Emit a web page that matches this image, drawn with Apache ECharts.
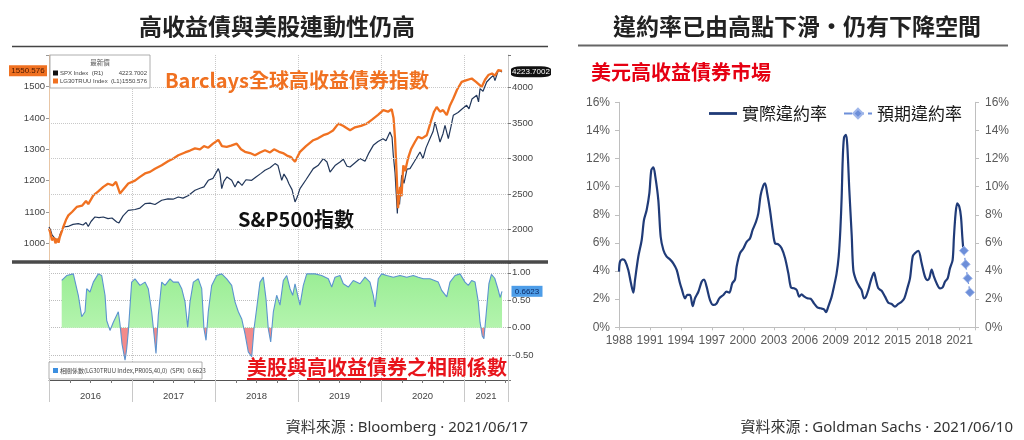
<!DOCTYPE html>
<html>
<head>
<meta charset="utf-8">
<script src="https://cdn.jsdelivr.net/npm/echarts@6/dist/echarts.min.js"></script>
<style>
  html, body { margin: 0; padding: 0; background: #fff; }
  #chart { width: 1024px; height: 440px; }
</style>
</head>
<body>
<div id="chart"></div>
<script>
// ---- left panel: Barclays HY index (left axis) and S&P 500 (right axis), decimal years ----
const hyYears = [2016.00, 2016.02, 2016.036, 2016.06, 2016.078, 2016.096, 2016.115, 2016.13, 2016.172, 2016.205,
  2016.233, 2016.277, 2016.334, 2016.398, 2016.446, 2016.473, 2016.534, 2016.59, 2016.654, 2016.71,
  2016.77, 2016.807, 2016.855, 2016.89, 2016.955, 2017.036, 2017.096, 2017.157, 2017.217, 2017.277,
  2017.358, 2017.434, 2017.494, 2017.558, 2017.639, 2017.699, 2017.759, 2017.819, 2017.867, 2017.919,
  2017.976, 2018.040, 2018.084, 2018.141, 2018.193, 2018.261, 2018.313, 2018.361, 2018.422, 2018.482,
  2018.542, 2018.602, 2018.663, 2018.711, 2018.771, 2018.819, 2018.867, 2018.916, 2018.964, 2019.024,
  2019.096, 2019.184, 2019.241, 2019.305, 2019.361, 2019.422, 2019.486, 2019.542, 2019.627, 2019.687,
  2019.759, 2019.828, 2019.892, 2019.964, 2020.028, 2020.084, 2020.129, 2020.151, 2020.169, 2020.187,
  2020.205, 2020.229, 2020.247, 2020.269, 2020.29, 2020.325, 2020.361, 2020.410, 2020.446, 2020.494,
  2020.551, 2020.602, 2020.639, 2020.671, 2020.711, 2020.747, 2020.792, 2020.831, 2020.871, 2020.916,
  2020.972, 2021.024, 2021.093, 2021.145, 2021.213, 2021.253, 2021.293, 2021.337, 2021.373, 2021.413, 2021.458];
const hyValues = [1047, 1030, 1010, 1018, 1000, 1015, 1002, 1020, 1052, 1075,
  1089, 1100, 1116, 1120, 1135, 1125, 1153, 1165, 1180, 1190,
  1185, 1196, 1159, 1170, 1191, 1200, 1212, 1223, 1228, 1238,
  1249, 1262, 1270, 1281, 1290, 1296, 1303, 1300, 1310, 1305,
  1318, 1330, 1310, 1308, 1312, 1318, 1300, 1292, 1288, 1281,
  1290, 1297, 1290, 1300, 1292, 1288, 1280, 1275, 1260, 1292,
  1310, 1329, 1335, 1345, 1350, 1360, 1382, 1375, 1361, 1370,
  1375, 1382, 1395, 1410, 1425, 1420, 1428, 1400, 1335, 1230,
  1112, 1180, 1150, 1249, 1230, 1271, 1300, 1324, 1340, 1335,
  1345, 1390, 1420, 1435, 1420, 1425, 1409, 1440, 1462, 1490,
  1515, 1520, 1526, 1515, 1499, 1522, 1537, 1542, 1535, 1553, 1550.576];

const spxYears = [2016.00, 2016.02, 2016.036, 2016.06, 2016.078, 2016.096, 2016.115, 2016.13, 2016.172, 2016.229,
  2016.289, 2016.353, 2016.41, 2016.446, 2016.473, 2016.506, 2016.554, 2016.602, 2016.654, 2016.711,
  2016.759, 2016.816, 2016.843, 2016.892, 2016.955, 2017.036, 2017.096, 2017.157, 2017.217, 2017.277,
  2017.358, 2017.434, 2017.494, 2017.558, 2017.614, 2017.675, 2017.759, 2017.819, 2017.867, 2017.919,
  2017.976, 2018.040, 2018.060, 2018.081, 2018.108, 2018.145, 2018.201, 2018.241, 2018.277, 2018.325,
  2018.373, 2018.442, 2018.494, 2018.554, 2018.602, 2018.663, 2018.723, 2018.759, 2018.804, 2018.831,
  2018.864, 2018.892, 2018.928, 2018.964, 2018.988, 2019.024, 2019.096, 2019.184, 2019.241, 2019.305,
  2019.349, 2019.386, 2019.446, 2019.506, 2019.546, 2019.59, 2019.627, 2019.687, 2019.747, 2019.807,
  2019.855, 2019.907, 2019.964, 2020.024, 2020.060, 2020.108, 2020.133, 2020.148, 2020.169, 2020.197,
  2020.205, 2020.223, 2020.249, 2020.277, 2020.313, 2020.349, 2020.398, 2020.470, 2020.506, 2020.542,
  2020.590, 2020.627, 2020.651, 2020.675, 2020.711, 2020.747, 2020.771, 2020.811, 2020.843, 2020.871,
  2020.928, 2020.976, 2021.032, 2021.06, 2021.096, 2021.153, 2021.175, 2021.193, 2021.229, 2021.273,
  2021.313, 2021.353, 2021.373, 2021.413, 2021.458];
const spxValues = [2032, 1985, 1920, 1900, 1860, 1870, 1845, 1920, 2032, 2040,
  2070, 2080, 2060, 2095, 2040, 2110, 2174, 2165, 2174, 2150,
  2160, 2103, 2090, 2190, 2268, 2280, 2300, 2363, 2370, 2350,
  2410, 2430, 2425, 2456, 2440, 2475, 2551, 2580, 2600, 2692,
  2720, 2857, 2790, 2575, 2680, 2740, 2692, 2597, 2680, 2620,
  2700, 2692, 2740, 2790, 2833, 2870, 2928, 2900, 2692, 2780,
  2716, 2640, 2560, 2386, 2450, 2575, 2700, 2857, 2900, 2999,
  2950, 2809, 2900, 2950, 2990, 2890, 2880, 2940, 2999, 2960,
  3080, 3186, 3240, 3280, 3250, 3374, 3300, 3045, 2800, 2222,
  2500, 2350, 2763, 2650, 2850, 2857, 2950, 3092, 3000, 3150,
  3281, 3380, 3515, 3400, 3233, 3350, 3469, 3281, 3450, 3610,
  3650, 3700, 3751, 3700, 3840, 3893, 3800, 3987, 3950, 4081,
  4130, 4175, 4100, 4246, 4223.7002];

const hyTicks = [1000, 1100, 1200, 1300, 1400, 1500];
const spxTicks = [2000, 2500, 3000, 3500, 4000];
const hyLast = 1550.576;
const spxLast = 4223.7002;

// ---- 40-day correlation, SPX vs LG30TRUU ----
const corrYears = [2016.153, 2016.213, 2016.293, 2016.313, 2016.353, 2016.394, 2016.434, 2016.454, 2016.494, 2016.534,
  2016.594, 2016.635, 2016.675, 2016.695, 2016.735, 2016.775, 2016.835, 2016.855, 2016.88, 2016.916,
  2016.935, 2016.955, 2016.996, 2017.036, 2017.096, 2017.157, 2017.196, 2017.237, 2017.289, 2017.317,
  2017.358, 2017.398, 2017.458, 2017.498, 2017.558, 2017.599, 2017.639, 2017.671, 2017.699, 2017.739,
  2017.799, 2017.840, 2017.867, 2017.892, 2017.919, 2017.960, 2018.020, 2018.081, 2018.141, 2018.201,
  2018.241, 2018.281, 2018.322, 2018.361, 2018.401, 2018.442, 2018.470, 2018.502, 2018.542, 2018.582,
  2018.614, 2018.642, 2018.671, 2018.703, 2018.743, 2018.783, 2018.823, 2018.864, 2018.904, 2018.936,
  2018.964, 2018.984, 2019.024, 2019.064, 2019.105, 2019.205, 2019.285, 2019.365, 2019.406, 2019.446,
  2019.506, 2019.546, 2019.606, 2019.666, 2019.747, 2019.807, 2019.867, 2019.907, 2019.928, 2019.967,
  2020.008, 2020.069, 2020.148, 2020.229, 2020.310, 2020.389, 2020.449, 2020.510, 2020.590, 2020.690,
  2020.731, 2020.792, 2020.831, 2020.892, 2020.952, 2021.012, 2021.052, 2021.092, 2021.133, 2021.172,
  2021.193, 2021.22, 2021.24, 2021.27, 2021.30, 2021.33, 2021.37, 2021.41, 2021.435, 2021.458];
const corrValues = [0.86, 0.95, 0.98, 0.95, 0.59, 0.20, 0.29, 0.71, 0.65, 0.83,
  0.98, 0.95, 0.59, 0.13, -0.05, 0.10, 0.29, 0.07, -0.30, -0.59,
  -0.40, -0.08, 0.83, 0.89, 0.77, 0.83, 0.71, 0.29, -0.47, 0.23,
  0.83, 0.77, 0.89, 0.83, 0.83, 0.71, 0.47, 0.01, 0.47, 0.83,
  0.89, 0.71, -0.02, -0.23, 0.29, 0.77, 0.95, 0.98, 0.89, 0.77,
  0.47, 0.29, 0.16, -0.11, -0.44, -0.53, -0.02, 0.35, 0.83, 0.92,
  0.53, -0.02, -0.26, 0.29, 0.59, 0.41, 0.86, 0.95, 0.71, 0.59,
  0.80, 0.83, 0.41, 0.77, 0.98, 0.98, 0.95, 0.89, 0.74, 0.92,
  0.95, 0.80, 0.74, 0.86, 0.80, 0.92, 0.83, 0.59, 0.38, 0.89,
  0.98, 0.95, 0.92, 0.95, 0.92, 0.95, 0.92, 0.89, 0.89, 0.83,
  0.68, 0.56, 0.83, 0.95, 0.98, 0.83, 0.77, 0.86, 0.83, 0.47,
  0.10, -0.15, -0.20, 0.30, 0.80, 0.97, 0.90, 0.70, 0.55, 0.6623];
const corrTicks = [-0.5, 0, 0.5, 1];
const corrLast = 0.6623;

// ---- right panel: US high-yield default rate (%) ----
const defaultYears = [1988.00, 1988.10, 1988.36, 1988.58, 1988.90, 1989.16, 1989.39, 1989.55, 1989.87, 1990.20,
  1990.42, 1990.68, 1990.94, 1991.13, 1991.33, 1991.52, 1991.81, 1992.04, 1992.30, 1992.62,
  1992.94, 1993.26, 1993.59, 1993.91, 1994.07, 1994.40, 1994.62, 1994.88, 1995.14, 1995.36,
  1995.69, 1996.01, 1996.24, 1996.49, 1996.82, 1997.14, 1997.46, 1997.72, 1998.11, 1998.43,
  1998.69, 1998.98, 1999.24, 1999.40, 1999.72, 2000.05, 2000.37, 2000.69, 2000.95, 2001.28,
  2001.50, 2001.73, 2001.99, 2002.15, 2002.37, 2002.63, 2002.89, 2003.12, 2003.44, 2003.76,
  2004.09, 2004.41, 2004.67, 2004.96, 2005.22, 2005.47, 2005.70, 2005.93, 2006.25, 2006.57,
  2006.90, 2007.22, 2007.54, 2007.87, 2008.06, 2008.28, 2008.61, 2008.83, 2009.09, 2009.29,
  2009.45, 2009.58, 2009.68, 2009.81, 2010.00, 2010.13, 2010.32, 2010.55, 2010.71, 2010.97,
  2011.29, 2011.51, 2011.74, 2011.93, 2012.16, 2012.42, 2012.71, 2012.90, 2013.13, 2013.45,
  2013.78, 2014.10, 2014.42, 2014.74, 2015.07, 2015.39, 2015.65, 2015.94, 2016.20, 2016.46,
  2016.68, 2017.01, 2017.33, 2017.65, 2017.88, 2018.07, 2018.30, 2018.52, 2018.78, 2019.11,
  2019.36, 2019.59, 2019.85, 2020.07, 2020.33, 2020.46, 2020.62, 2020.78, 2020.98, 2021.14,
  2021.27, 2021.37];
const defaultRates = [3.96, 4.67, 4.83, 4.74, 4.08, 3.13, 2.47, 3.36, 5.02, 6.21,
  7.63, 8.34, 9.52, 11.18, 11.37, 10.71, 9.05, 6.44, 5.50, 5.02,
  4.83, 4.55, 4.08, 3.13, 2.75, 2.06, 2.30, 2.30, 1.50, 2.06,
  2.53, 3.24, 3.40, 2.89, 1.94, 1.59, 1.70, 2.06, 2.30, 2.53,
  2.46, 3.13, 3.39, 4.31, 5.26, 5.60, 6.08, 6.32, 6.92, 7.51,
  8.10, 9.41, 10.10, 10.24, 9.50, 8.34, 6.92, 5.97, 5.90, 5.62,
  4.93, 3.84, 2.82, 2.77, 2.65, 2.18, 2.35, 2.20, 2.06, 2.03,
  1.70, 1.42, 1.35, 1.28, 1.07, 1.47, 2.18, 2.89, 3.84, 5.02,
  6.92, 9.29, 11.90, 13.50, 13.68, 12.85, 9.76, 6.56, 4.07, 3.36,
  2.89, 2.65, 2.06, 2.18, 2.65, 3.36, 3.89, 3.36, 2.77, 2.60,
  2.18, 1.75, 1.66, 1.47, 1.66, 1.82, 2.06, 2.77, 3.48, 5.02,
  5.26, 5.43, 4.55, 3.60, 3.36, 3.48, 4.10, 3.60, 3.13, 2.77,
  2.84, 3.24, 3.48, 4.19, 4.78, 6.44, 8.10, 8.81, 8.57, 7.87,
  6.44, 5.50];
const forecastYears = [2021.43, 2021.59, 2021.79, 2022.01];
const forecastRates = [5.45, 4.48, 3.48, 2.49];

const BASE_YEAR = 1988;
const X_END_LEFT = 2021.53;

const cjk = '"Noto Sans CJK TC", "Noto Sans CJK SC", sans-serif';
const latin = '"Liberation Sans", Arial, sans-serif';
const mixed = '"Noto Sans", "Noto Sans CJK TC", sans-serif';

function pairs(xs, ys) {
  return xs.map((x, i) => [x, ys[i]]);
}
function near(v, list) {
  return list.some((t) => Math.abs(v - t) < 1e-6);
}
function textWidth(str, font) {
  const ctx = document.createElement('canvas').getContext('2d');
  ctx.font = font;
  return ctx.measureText(str).width;
}

const chart = echarts.init(document.getElementById('chart'));

// correlation panel geometry, used for the green / red split of the fill
const corrGrid = { left: 49, right: 516, top: 263, height: 117 };
const corrMin = -0.953;
const corrMax = 1.178;
const zeroAt = corrMax / (corrMax - corrMin);
const corrFill = new echarts.graphic.LinearGradient(0, corrGrid.top, 0, corrGrid.top + corrGrid.height, [
  { offset: 0, color: '#95ec90' },
  { offset: zeroAt, color: '#b4f4ae' },
  { offset: zeroAt, color: '#f38b8b' },
  { offset: 1, color: '#f38b8b' },
], true);

// red caption with partial underlines
const capFont = 'bold 20px ' + cjk;
const capX = 247;
const w1 = textWidth('美股', capFont);
const w2 = textWidth('與', capFont);
const w3 = textWidth('高收益債券', capFont);

const option = {
  backgroundColor: '#fff',
  animation: false,
  grid: [
    { left: 49, right: 516, top: 55, height: 207 },
    corrGrid,
    { left: 619, right: 49, top: 102.3, height: 225 },
  ],
  xAxis: [
    {
      gridIndex: 0, type: 'value', min: 2016, max: X_END_LEFT, interval: 1,
      axisLine: { show: false }, axisTick: { show: false }, axisLabel: { show: false },
      splitLine: { show: true, lineStyle: { type: 'dotted', color: '#c8c8c8' } },
    },
    {
      gridIndex: 1, type: 'value', min: 2016, max: X_END_LEFT, interval: 1,
      axisLine: { show: true, onZero: false, lineStyle: { color: '#555', width: 1 } },
      axisTick: { show: true, length: 22, lineStyle: { color: '#c8c8c8' } },
      minorTick: { show: true, splitNumber: 4, length: 3, lineStyle: { color: '#777' } },
      splitLine: { show: true, lineStyle: { type: 'dotted', color: '#c8c8c8' } },
      axisLabel: {
        margin: 11,
        formatter: (v) => {
          if (Math.abs(v - Math.round(v)) > 1e-6) return '';
          const y = Math.round(v);
          return y === 2021 ? '{s|' + y + '}' : '{f|' + y + '}';
        },
        rich: {
          f: { padding: [0, 0, 0, 83], fontSize: 9.5, color: '#444', fontFamily: latin },
          s: { padding: [0, 0, 0, 44], fontSize: 9.5, color: '#444', fontFamily: latin },
        },
      },
    },
    {
      gridIndex: 2, type: 'value', min: 0, max: 34.5, interval: 3,
      axisLine: { show: true, onZero: false, lineStyle: { color: '#bfbfbf' } },
      axisTick: { show: true, length: 3, lineStyle: { color: '#bfbfbf' } },
      splitLine: { show: false },
      axisLabel: {
        margin: 7, fontSize: 12, color: '#595959', fontFamily: latin,
        formatter: (v) => (v % 3 === 0 && v <= 33 ? String(BASE_YEAR + v) : ''),
      },
    },
  ],
  yAxis: [
    {
      gridIndex: 0, type: 'value', position: 'left', min: 940.3, max: 1601,
      axisLine: { show: true, lineStyle: { color: '#e8c6a6' } },
      axisTick: { show: true, length: 3, lineStyle: { color: '#999' } },
      splitLine: { show: false },
      axisLabel: {
        margin: 4, fontSize: 9.5, color: '#444', fontFamily: latin,
        formatter: (v) => (near(v, hyTicks) ? String(Math.round(v)) : ''),
      },
    },
    {
      gridIndex: 0, type: 'value', position: 'right', min: 1538, max: 4462,
      axisLine: { show: true, lineStyle: { color: '#c8c8c8' } },
      axisTick: { show: true, length: 3, lineStyle: { color: '#777' } },
      splitLine: { show: false },
      axisLabel: {
        margin: 4, fontSize: 9.5, color: '#444', fontFamily: latin,
        formatter: (v) => (near(v, spxTicks) ? String(Math.round(v)) : ''),
      },
    },
    {
      gridIndex: 1, type: 'value', position: 'right', min: corrMin, max: corrMax,
      axisLine: { show: true, lineStyle: { color: '#c8c8c8' } },
      axisTick: { show: true, length: 3, lineStyle: { color: '#777' } },
      splitLine: { show: true, lineStyle: { type: 'dotted', color: '#bdbdbd' } },
      axisLabel: {
        margin: 4, fontSize: 9.5, color: '#444', fontFamily: latin,
        formatter: (v) => (near(v, corrTicks) ? v.toFixed(2) : ''),
      },
    },
    {
      gridIndex: 2, type: 'value', position: 'left', min: 0, max: 16, interval: 2,
      axisLine: { show: true, lineStyle: { color: '#bfbfbf' } },
      axisTick: { show: true, length: 4, lineStyle: { color: '#bfbfbf' } },
      splitLine: { show: false },
      axisLabel: { margin: 9, fontSize: 12, color: '#595959', fontFamily: latin, formatter: '{value}%' },
    },
    {
      gridIndex: 2, type: 'value', position: 'right', min: 0, max: 16, interval: 2,
      axisLine: { show: true, lineStyle: { color: '#bfbfbf' } },
      axisTick: { show: true, length: 4, lineStyle: { color: '#bfbfbf' } },
      splitLine: { show: false },
      axisLabel: { margin: 10, fontSize: 12, color: '#595959', fontFamily: latin, formatter: '{value}%' },
    },
  ],
  legend: {
    data: [
      { name: '實際違約率', icon: 'path://M0,0 L30,0 L30,3 L0,3 Z' },
      { name: '預期違約率' },
    ],
    left: 704, top: 100, itemWidth: 28, itemHeight: 12, itemGap: 16,
    textStyle: { fontSize: 17, color: '#1a1a1a', fontFamily: cjk },
  },
  series: [
    {
      name: 'SPX', type: 'line', xAxisIndex: 0, yAxisIndex: 1,
      data: pairs(spxYears, spxValues), showSymbol: false,
      lineStyle: { color: '#22375a', width: 1.2 }, itemStyle: { color: '#22375a' },
      markLine: {
        silent: true, symbol: ['none', 'none'], label: { show: false },
        lineStyle: { type: 'dotted', color: '#c8c8c8', width: 1 },
        data: spxTicks.map((v) => ({ yAxis: v })),
      },
      markPoint: {
        silent: true,
        data: [{ coord: [X_END_LEFT, spxLast], value: spxLast }],
        symbol: 'roundRect', symbolSize: [40, 11], symbolOffset: [23, 0],
        itemStyle: { color: '#111' },
        label: { show: true, formatter: '4223.7002', color: '#fff', fontSize: 8, fontFamily: latin },
      },
    },
    {
      name: 'LG30TRUU', type: 'line', xAxisIndex: 0, yAxisIndex: 0,
      data: pairs(hyYears, hyValues), showSymbol: false,
      lineStyle: { color: '#f07121', width: 2.3 }, itemStyle: { color: '#f07121' },
      markPoint: {
        silent: true,
        data: [{ coord: [2016, hyLast], value: hyLast }],
        symbol: 'rect', symbolSize: [38, 11], symbolOffset: [-21, 0],
        itemStyle: { color: '#f07121' },
        label: { show: true, formatter: '1550.576', color: '#4a1800', fontSize: 8, fontFamily: latin },
      },
    },
    {
      name: 'corrArea', type: 'line', xAxisIndex: 1, yAxisIndex: 2,
      data: pairs(corrYears, corrValues), showSymbol: false,
      lineStyle: { width: 0, opacity: 0 }, areaStyle: { color: corrFill, opacity: 1 },
    },
    {
      name: 'corr', type: 'line', xAxisIndex: 1, yAxisIndex: 2,
      data: pairs(corrYears, corrValues), showSymbol: false,
      lineStyle: { color: '#5b93cf', width: 1.1 }, itemStyle: { color: '#5b93cf' },
      markPoint: {
        silent: true,
        data: [{ coord: [X_END_LEFT, corrLast], value: corrLast }],
        symbol: 'rect', symbolSize: [31, 11], symbolOffset: [19, 0],
        itemStyle: { color: '#4d9de8' },
        label: { show: true, formatter: '0.6623', color: '#0b2a66', fontSize: 8, fontFamily: latin },
      },
    },
    {
      name: '實際違約率', type: 'line', xAxisIndex: 2, yAxisIndex: 3,
      data: defaultYears.map((y, i) => [y - BASE_YEAR, defaultRates[i]]),
      showSymbol: false, smooth: 0.3, symbol: 'none',
      lineStyle: { color: '#203b78', width: 2.2 }, itemStyle: { color: '#203b78' },
    },
    {
      name: '預期違約率', type: 'line', xAxisIndex: 2, yAxisIndex: 3,
      data: forecastYears.map((y, i) => [y - BASE_YEAR, forecastRates[i]]),
      symbol: 'diamond', symbolSize: 9,
      lineStyle: { color: '#6d8fd9', width: 1.2, type: 'dashed' },
      itemStyle: { color: '#6d8fd9', borderColor: '#9fb6ea', borderWidth: 1 },
    },
  ],
  graphic: [
    // titles and rules
    { type: 'text', x: 277, y: 26, style: { text: '高收益債與美股連動性仍高', font: 'bold 23px ' + cjk, fill: '#222', textAlign: 'center', textVerticalAlign: 'middle' } },
    { type: 'text', x: 797, y: 26, style: { text: '違約率已由高點下滑‧仍有下降空間', font: 'bold 23px ' + cjk, fill: '#222', textAlign: 'center', textVerticalAlign: 'middle' } },
    { type: 'line', shape: { x1: 12, y1: 46.5, x2: 548, y2: 46.5 }, style: { stroke: '#444', lineWidth: 1.5 } },
    { type: 'line', shape: { x1: 578, y1: 45.5, x2: 1008, y2: 45.5 }, style: { stroke: '#666', lineWidth: 2 } },
    { type: 'line', z: 50, shape: { x1: 12, y1: 262, x2: 548, y2: 262 }, style: { stroke: '#4a4a4a', lineWidth: 3.5 } },

    // top-left legend box
    { type: 'rect', z: 40, shape: { x: 50, y: 55, width: 100, height: 33 }, style: { fill: '#fff', stroke: '#9a9a9a', lineWidth: 0.8 } },
    { type: 'text', z: 41, x: 100, y: 63, style: { text: '最新價', font: '6.5px ' + cjk, fill: '#555', textAlign: 'center', textVerticalAlign: 'middle' } },
    { type: 'rect', z: 41, shape: { x: 53, y: 70.5, width: 5, height: 5 }, style: { fill: '#111' } },
    { type: 'text', z: 41, x: 60, y: 73, style: { text: 'SPX Index  (R1)', font: '6px ' + latin, fill: '#444', textVerticalAlign: 'middle' } },
    { type: 'text', z: 41, x: 147, y: 73, style: { text: '4223.7002', font: '6px ' + latin, fill: '#444', textAlign: 'right', textVerticalAlign: 'middle' } },
    { type: 'rect', z: 41, shape: { x: 53, y: 78.5, width: 5, height: 5 }, style: { fill: '#f07121' } },
    { type: 'text', z: 41, x: 60, y: 81, style: { text: 'LG30TRUU Index  (L1)', font: '6px ' + latin, fill: '#444', textVerticalAlign: 'middle' } },
    { type: 'text', z: 41, x: 147, y: 81, style: { text: '1550.576', font: '6px ' + latin, fill: '#444', textAlign: 'right', textVerticalAlign: 'middle' } },

    // bottom-left legend box
    { type: 'rect', z: 40, shape: { x: 49, y: 362, width: 153, height: 17 }, style: { fill: '#fff', stroke: '#9a9a9a', lineWidth: 0.8 } },
    { type: 'rect', z: 41, shape: { x: 53, y: 368, width: 5, height: 5 }, style: { fill: '#3c8fe0' } },
    { type: 'text', z: 41, x: 60, y: 370.5, style: { text: '相關係數(LG30TRUU Index,PR005,40,0)  (SPX)  0.6623', font: '6px ' + cjk, fill: '#444', textVerticalAlign: 'middle' } },

    // annotations
    { type: 'text', z: 45, x: 165, y: 80, style: { text: 'Barclays全球高收益債券指數', font: 'bold 20px ' + cjk, fill: '#f07121', textVerticalAlign: 'middle' } },
    { type: 'text', z: 45, x: 238, y: 219, style: { text: 'S&P500指數', font: 'bold 20px ' + cjk, fill: '#111', textVerticalAlign: 'middle' } },
    { type: 'text', z: 45, x: capX, y: 367, style: { text: '美股與高收益債券之相關係數', font: capFont, fill: '#e8141b', textVerticalAlign: 'middle' } },
    { type: 'line', z: 45, shape: { x1: capX, y1: 379, x2: capX + w1, y2: 379 }, style: { stroke: '#e8141b', lineWidth: 2 } },
    { type: 'line', z: 45, shape: { x1: capX + w1 + w2, y1: 379, x2: capX + w1 + w2 + w3, y2: 379 }, style: { stroke: '#e8141b', lineWidth: 2 } },
    { type: 'text', x: 591, y: 72, style: { text: '美元高收益債券市場', font: 'bold 20px ' + cjk, fill: '#e60012', textVerticalAlign: 'middle' } },

    // sources
    { type: 'text', x: 528, y: 428, style: { text: '資料來源 : Bloomberg · 2021/06/17', font: '15px ' + mixed, fill: '#333', textAlign: 'right', textVerticalAlign: 'middle' } },
    { type: 'text', x: 1013, y: 428, style: { text: '資料來源 : Goldman Sachs · 2021/06/10', font: '15px ' + mixed, fill: '#333', textAlign: 'right', textVerticalAlign: 'middle' } },
  ],
};

chart.setOption(option);
</script>
</body>
</html>
